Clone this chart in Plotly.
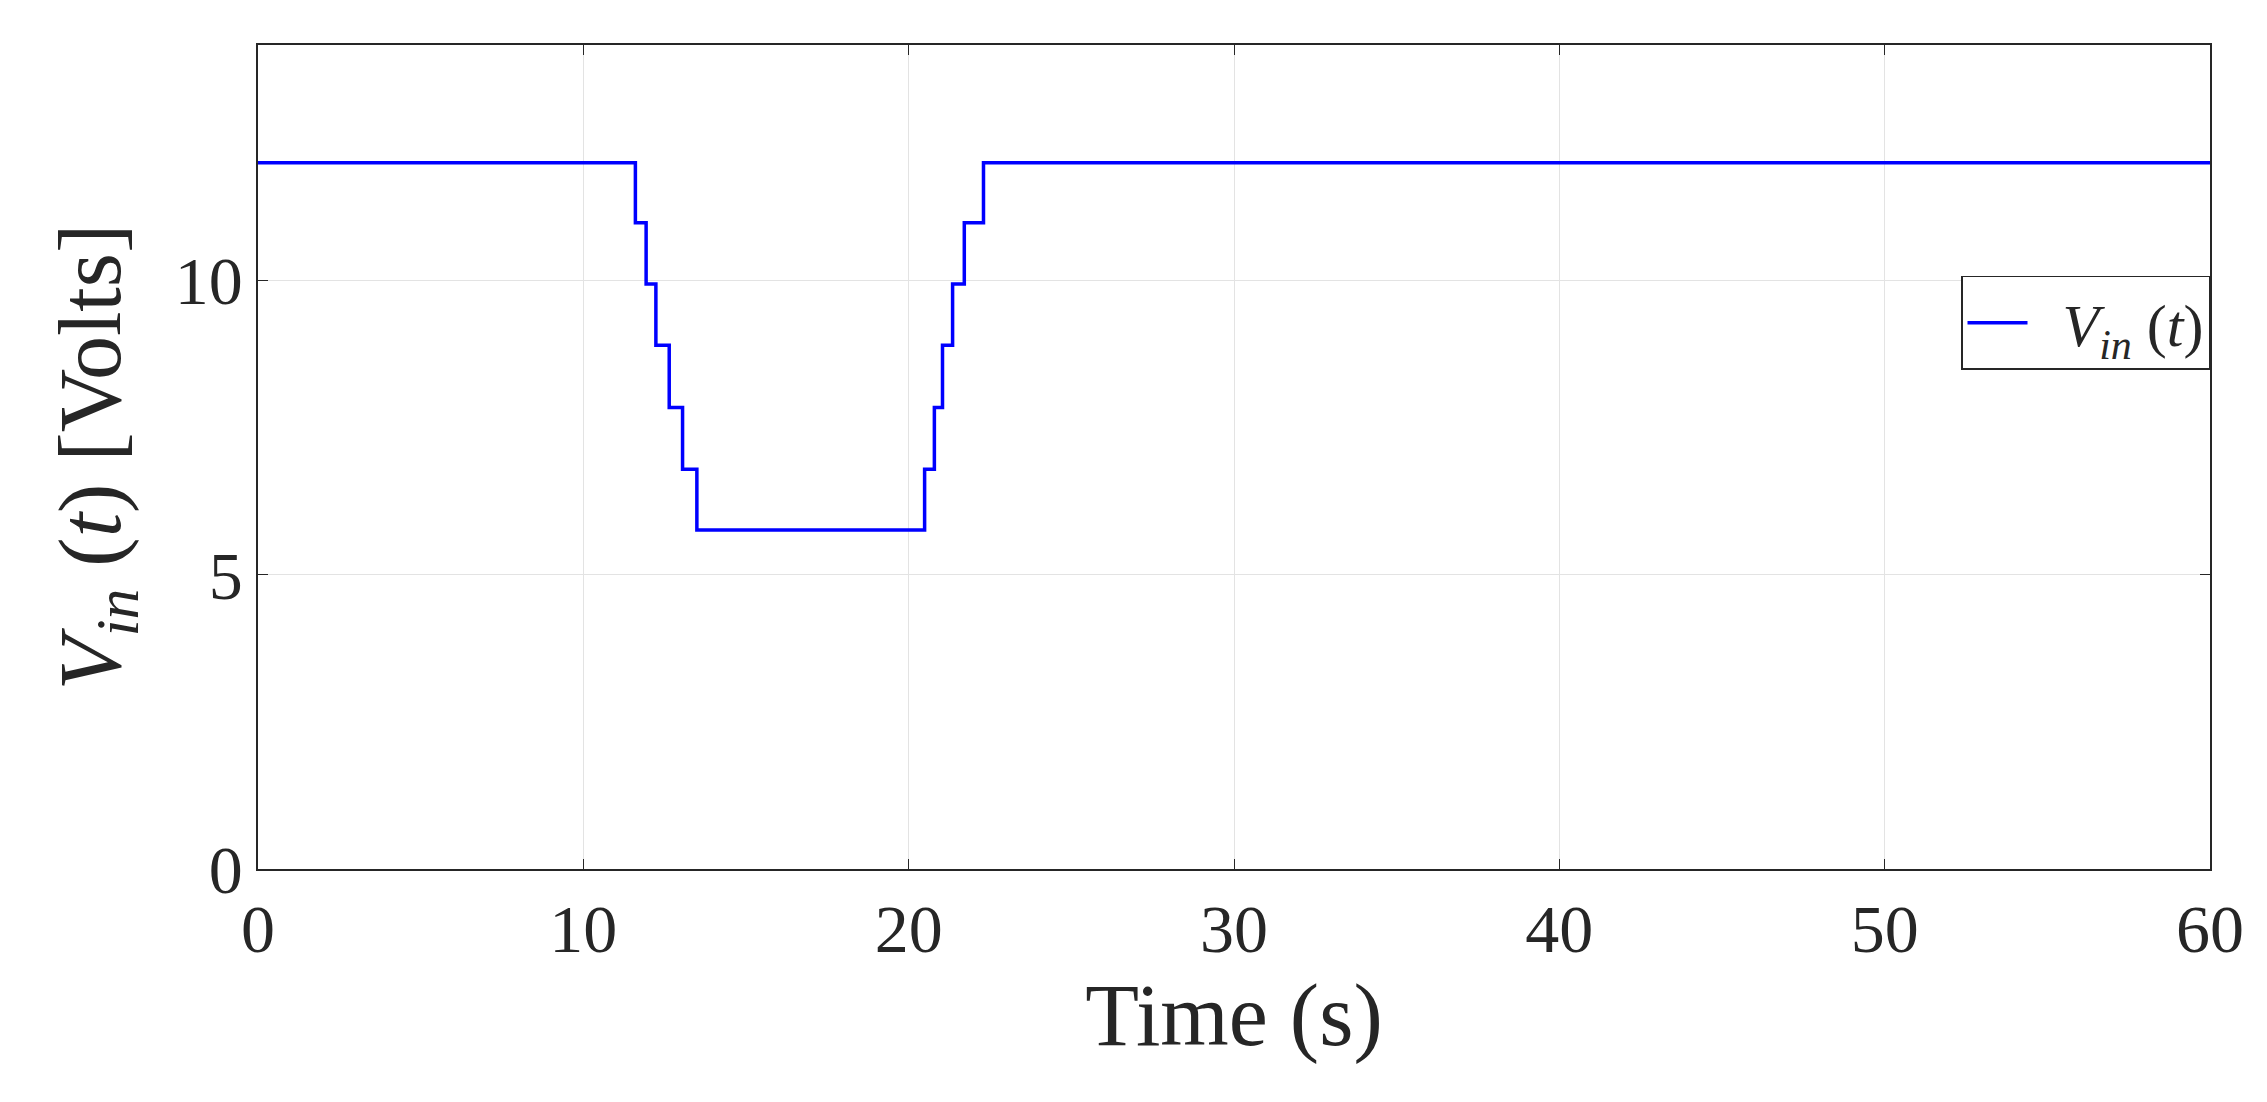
import plotly.graph_objects as go

time_s = [0, 11.6, 11.93, 12.23, 12.64, 13.05, 13.49, 20.49, 20.79, 21.04, 21.35, 21.71, 22.3, 60]
vin_volts = [12.0, 10.98, 9.94, 8.90, 7.84, 6.79, 5.76, 6.79, 7.84, 8.90, 9.94, 10.98, 12.0, 12.0]

fig = go.Figure()
fig.add_trace(go.Scatter(x=time_s, y=vin_volts, mode="lines", line_shape="hv",
                         line=dict(color="#0000ff", width=3.5),
                         name="  <i>V</i><sub><i>in</i></sub> (<i>t</i>)"))
ax = dict(showline=True, linecolor="#262626", linewidth=1.5, mirror="ticks", ticks="inside",
          ticklen=10, tickcolor="#262626", showgrid=True, gridcolor="#e3e3e3", zeroline=False,
          tickfont=dict(size=68, color="#262626"))
fig.update_layout(
    width=2267, height=1102, plot_bgcolor="white", paper_bgcolor="white",
    font=dict(family="Liberation Serif", color="#262626"),
    margin=dict(l=250, r=65, t=37, b=241),
    xaxis=dict(range=[0, 60], dtick=10, title=dict(text="Time (s)", font=dict(size=88), standoff=10), **ax),
    yaxis=dict(range=[0, 14], tickvals=[0, 5, 10], title=dict(
        text="<i>V</i><sub><i>in</i></sub> (<i>t</i>) [Volts]", font=dict(size=88), standoff=25), **ax),
    showlegend=True,
    legend=dict(x=1, xanchor="right", y=0.72, yanchor="top", bgcolor="white", itemwidth=60,
                bordercolor="#262626", borderwidth=1.5, font=dict(size=60)),
)
fig.write_html("out.html")
